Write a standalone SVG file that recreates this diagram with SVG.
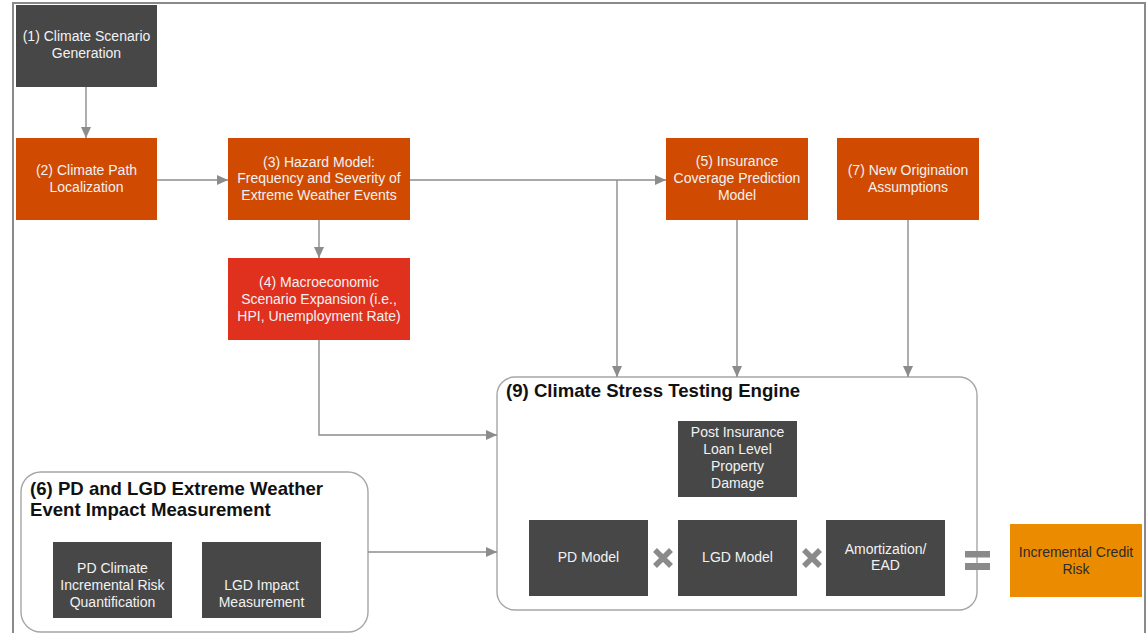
<svg xmlns="http://www.w3.org/2000/svg" width="1147" height="633" viewBox="0 0 1147 633">
<style>
.t{font-family:"Liberation Sans",Arial,sans-serif;font-size:14px;fill:#f2f2f2;text-anchor:middle}
.d{fill:#474747}
.o{fill:#D04A02}
.r{fill:#E0301E}
.a{fill:#EB8C00}
.h{font-family:"Liberation Sans",Arial,sans-serif;font-size:18.6px;font-weight:bold;fill:#111}
.c{fill:none;stroke:#8c8c8c;stroke-width:1.4}
.g{fill:#fff;stroke:#a6a6a6;stroke-width:1.4}
.x{stroke:#8a8a8a;stroke-width:5.5;fill:none}
</style>
<defs>
<marker id="ah" markerUnits="userSpaceOnUse" markerWidth="12" markerHeight="10" refX="11" refY="5" orient="auto">
<path d="M0,0 L11,5 L0,10 Z" fill="#8c8c8c"/>
</marker>
</defs>
<rect width="1147" height="633" fill="#fff"/>
<path d="M13,633 V3 H1145 V633" fill="none" stroke="#8a8a8a" stroke-width="2"/>

<g id="containers">
<g id="n9"><rect class="g" x="497" y="377" width="480" height="233" rx="18"/>
<text class="h" x="506" y="397">(9) Climate Stress Testing Engine</text></g>
<g id="n6"><rect class="g" x="21" y="472" width="347" height="160" rx="20"/>
<text class="h" x="30" y="495">(6) PD and LGD Extreme Weather</text>
<text class="h" x="30" y="516">Event Impact Measurement</text></g>
</g>

<g id="connectors">
<path class="c" d="M86,87 V138" marker-end="url(#ah)"/>
<path class="c" d="M157,180 H228" marker-end="url(#ah)"/>
<path class="c" d="M410,180 H666" marker-end="url(#ah)"/>
<path class="c" d="M617,180 V377" marker-end="url(#ah)"/>
<path class="c" d="M319,220 V258" marker-end="url(#ah)"/>
<path class="c" d="M319,340 V435 H497" marker-end="url(#ah)"/>
<path class="c" d="M737,220 V377" marker-end="url(#ah)"/>
<path class="c" d="M908,220 V377" marker-end="url(#ah)"/>
<path class="c" d="M368,552 H497" marker-end="url(#ah)"/>
</g>

<g id="n1"><rect class="d" x="16" y="5" width="141" height="82"/>
<text class="t" x="86.5" y="41">(1) Climate Scenario</text><text class="t" x="86.5" y="58">Generation</text></g>
<g id="n2"><rect class="o" x="16" y="138" width="141" height="82"/>
<text class="t" x="86.5" y="175">(2) Climate Path</text><text class="t" x="86.5" y="192">Localization</text></g>
<g id="n3"><rect class="o" x="228" y="138" width="182" height="82"/>
<text class="t" x="319" y="166.5">(3) Hazard Model:</text><text class="t" x="319" y="183">Frequency and Severity of</text><text class="t" x="319" y="200">Extreme Weather Events</text></g>
<g id="n4"><rect class="r" x="228" y="258" width="182" height="82"/>
<text class="t" x="319" y="287">(4) Macroeconomic</text><text class="t" x="319" y="303.5">Scenario Expansion (i.e.,</text><text class="t" x="319" y="320.5">HPI, Unemployment Rate)</text></g>
<g id="n5"><rect class="o" x="666" y="138" width="142" height="82"/>
<text class="t" x="737" y="166">(5) Insurance</text><text class="t" x="737" y="183">Coverage Prediction</text><text class="t" x="737" y="200">Model</text></g>
<g id="n7"><rect class="o" x="837" y="138" width="142" height="82"/>
<text class="t" x="908" y="175">(7) New Origination</text><text class="t" x="908" y="192">Assumptions</text></g>

<g id="n-post"><rect class="d" x="678" y="421" width="119" height="76"/>
<text class="t" x="737.5" y="437">Post Insurance</text><text class="t" x="737.5" y="454">Loan Level</text><text class="t" x="737.5" y="471">Property</text><text class="t" x="737.5" y="488">Damage</text></g>
<g id="n-pd"><rect class="d" x="529" y="520" width="119" height="76"/>
<text class="t" x="588.5" y="562">PD Model</text></g>
<g id="n-lgd"><rect class="d" x="678" y="520" width="119" height="76"/>
<text class="t" x="737.5" y="562">LGD Model</text></g>
<g id="n-ead"><rect class="d" x="826" y="520" width="119" height="76"/>
<text class="t" x="885.5" y="554">Amortization/</text><text class="t" x="885.5" y="570">EAD</text></g>
<g id="n-icr"><rect class="a" x="1010" y="524" width="132" height="73"/>
<text class="t" x="1076" y="557" style="fill:#2b2b2b">Incremental Credit</text><text class="t" x="1076" y="574" style="fill:#2b2b2b">Risk</text></g>
<g id="n-pdc"><rect class="d" x="53" y="542" width="119" height="76"/>
<text class="t" x="112.5" y="573">PD Climate</text><text class="t" x="112.5" y="590">Incremental Risk</text><text class="t" x="112.5" y="607">Quantification</text></g>
<g id="n-lgdi"><rect class="d" x="202" y="542" width="119" height="76"/>
<text class="t" x="261.5" y="590">LGD Impact</text><text class="t" x="261.5" y="607">Measurement</text></g>

<g id="ops">
<path class="x" d="M655,550 L671,566 M671,550 L655,566"/>
<path class="x" d="M804,550 L820,566 M820,550 L804,566"/>
<rect x="965" y="551" width="25" height="6.5" fill="#8a8a8a"/>
<rect x="965" y="563" width="25" height="7" fill="#8a8a8a"/>
</g>
</svg>
